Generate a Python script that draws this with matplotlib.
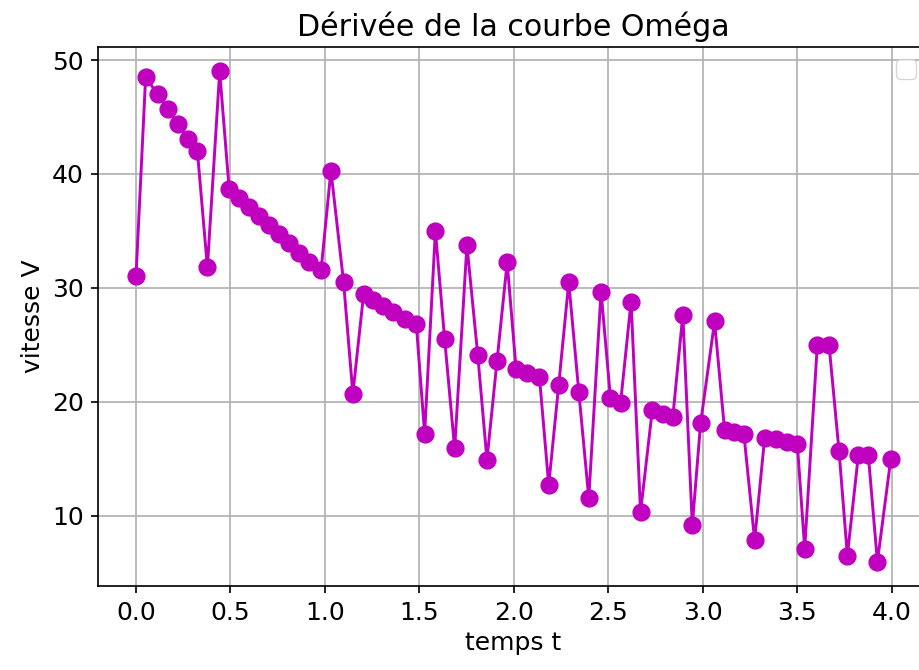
import matplotlib.pyplot as plt

# temps (s) et vitesse
temps = [0.000, 0.051, 0.115, 0.168, 0.221, 0.274, 0.325, 0.378, 0.443, 0.493,
         0.546, 0.599, 0.652, 0.705, 0.758, 0.811, 0.864, 0.917, 0.980, 1.032,
         1.099, 1.148, 1.205, 1.255, 1.308, 1.361, 1.422, 1.484, 1.528, 1.585,
         1.634, 1.687, 1.752, 1.809, 1.858, 1.911, 1.965, 2.012, 2.070, 2.136,
         2.185, 2.238, 2.291, 2.344, 2.397, 2.462, 2.512, 2.565, 2.621, 2.671,
         2.733, 2.789, 2.842, 2.895, 2.945, 2.989, 3.063, 3.116, 3.165, 3.218,
         3.275, 3.328, 3.386, 3.445, 3.501, 3.540, 3.607, 3.669, 3.722, 3.766,
         3.824, 3.877, 3.925, 3.996]
vitesse = [31.0, 48.5, 47.0, 45.7, 44.4, 43.1, 42.0, 31.8, 49.0, 38.7,
           37.9, 37.1, 36.3, 35.5, 34.7, 33.9, 33.1, 32.3, 31.6, 40.3,
           30.5, 20.7, 29.45, 28.9, 28.4, 27.9, 27.3, 26.8, 17.2, 35.0,
           25.5, 15.9, 33.75, 24.15, 14.9, 23.55, 32.25, 22.9, 22.5, 22.15,
           12.7, 21.5, 30.5, 20.9, 11.55, 29.65, 20.3, 19.85, 28.8, 10.3,
           19.25, 18.95, 18.7, 27.65, 9.15, 18.1, 27.05, 17.5, 17.35, 17.2,
           7.85, 16.8, 16.75, 16.5, 16.3, 7.1, 25.0, 25.0, 15.65, 6.5,
           15.3, 15.3, 5.95, 15.0]

s = 1.512  # facteur d'échelle par rapport aux réglages par défaut
plt.rcParams['font.size'] = 18
plt.rcParams['axes.linewidth'] = 0.8 * s
plt.rcParams['xtick.major.width'] = 0.8 * s
plt.rcParams['ytick.major.width'] = 0.8 * s
plt.rcParams['xtick.major.size'] = 3.5 * s
plt.rcParams['ytick.major.size'] = 3.5 * s
plt.rcParams['xtick.major.pad'] = 3.5 * s
plt.rcParams['ytick.major.pad'] = 3.5 * s

fig = plt.figure(figsize=(9.2, 6.7), dpi=100)
ax = fig.add_axes([0.1068, 0.1249, 0.9025, 0.805])

ax.plot(temps, vitesse, 'm-o', linewidth=1.4 * s, markersize=8 * s)
ax.grid(True, linewidth=0.8 * s)
ax.set_title("Dérivée de la courbe Oméga", pad=5 * s)
ax.set_xlabel("temps t", labelpad=3 * s)
ax.set_ylabel("vitesse V", labelpad=3 * s)
ax.set_xticks([0.0, 0.5, 1.0, 1.5, 2.0, 2.5, 3.0, 3.5, 4.0])
ax.legend(handles=[], loc='upper right')

plt.savefig("out.png", dpi=100)
